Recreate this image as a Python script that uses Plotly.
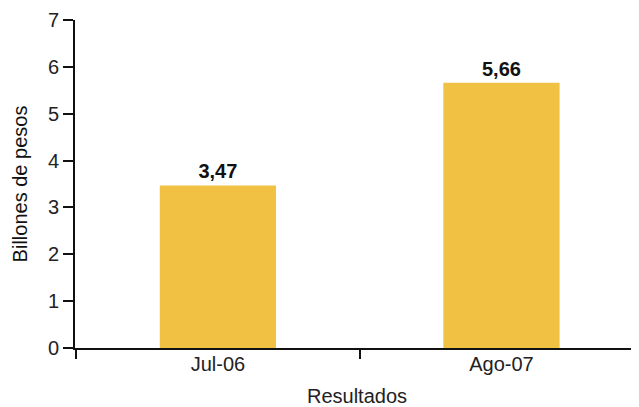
import plotly.graph_objects as go

categories = ["Jul-06", "Ago-07"]
values = [3.47, 5.66]
y_ticks = [0, 1, 2, 3, 4, 5, 6, 7]

FONT = "Liberation Sans, Arial, sans-serif"

fig = go.Figure(go.Bar(
    x=categories, y=values,
    marker=dict(color="#F0C142", line=dict(width=0)),
    width=0.41,
    texttemplate="<b>%{y:.2f}</b>", textposition="outside",
    textfont=dict(family=FONT, size=20, color="#111111"),
    cliponaxis=False,
))

# page body has an 8px default margin, so the figure is sized to fill the rest
fig.update_layout(
    width=631, height=399,
    margin=dict(l=67, r=0, t=12, b=59),
    paper_bgcolor="white", plot_bgcolor="white",
    separators=",.",
    showlegend=False,
    font=dict(family=FONT, size=20, color="#222222"),
)
fig.update_xaxes(
    type="category", range=[-0.504, 1.485], automargin=False,
    tickson="boundaries", ticks="outside", ticklen=9, tickwidth=2, tickcolor="#111",
    ticklabelstandoff=-3,
    showline=True, linecolor="#111", linewidth=2,
    showgrid=False, zeroline=False,
    tickfont=dict(size=20, color="#222"),
    title=dict(text="Resultados", font=dict(size=20, color="#222"), standoff=16),
)
fig.update_yaxes(
    range=[0, 7], tickvals=y_ticks, automargin=False,
    ticks="outside", ticklen=10, tickwidth=2, tickcolor="#111",
    showline=True, linecolor="#111", linewidth=2,
    showgrid=False, zeroline=False,
    tickfont=dict(size=20, color="#222"),
    title=dict(text="Billones de pesos", font=dict(size=20, color="#111"), standoff=15),
)

fig.write_html("out.html")
